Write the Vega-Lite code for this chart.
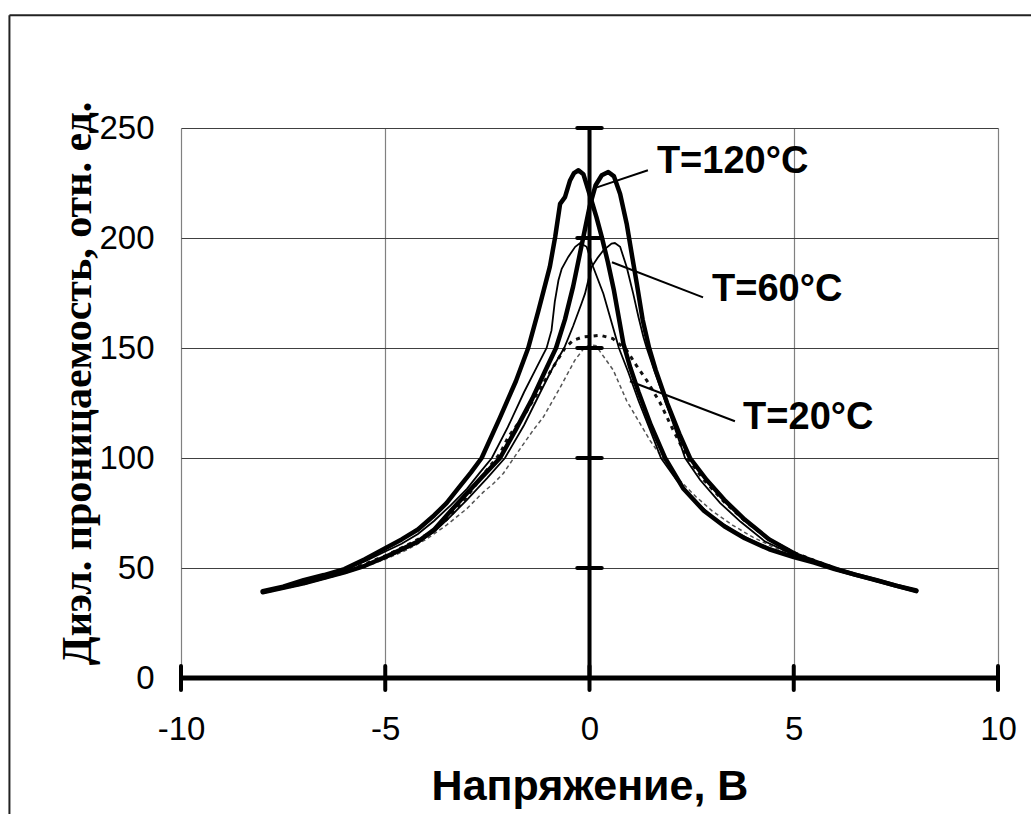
{
  "$schema": "https://vega.github.io/schema/vega-lite/v6.json",
  "width": 817,
  "height": 550,
  "autosize": {"type": "none"},
  "padding": {"left": 181, "top": 128, "right": 33, "bottom": 136},
  "background": "white",
  "config": {"view": {"stroke": null}},
  "datasets": {
    "curves": [
      {"s":"120A","x":-8,"y":39.5},{"s":"120A","x":-7.5,"y":41.5},{"s":"120A","x":-7,"y":44.5},{"s":"120A","x":-6.5,"y":46.8},{"s":"120A","x":-6,"y":49.5},{"s":"120A","x":-5.5,"y":54},{"s":"120A","x":-5,"y":59},{"s":"120A","x":-4.6,"y":63},{"s":"120A","x":-4.2,"y":67.5},{"s":"120A","x":-3.8,"y":74},{"s":"120A","x":-3.5,"y":79.5},{"s":"120A","x":-3.2,"y":86.5},{"s":"120A","x":-2.9,"y":93.5},{"s":"120A","x":-2.64,"y":100},{"s":"120A","x":-2.2,"y":118},{"s":"120A","x":-1.8,"y":135},{"s":"120A","x":-1.5,"y":150},{"s":"120A","x":-1.25,"y":167},{"s":"120A","x":-0.97,"y":187},{"s":"120A","x":-0.84,"y":200.5},{"s":"120A","x":-0.72,"y":215.5},{"s":"120A","x":-0.6,"y":218.6},{"s":"120A","x":-0.48,"y":226},{"s":"120A","x":-0.38,"y":229.5},{"s":"120A","x":-0.27,"y":230.8},{"s":"120A","x":-0.15,"y":229},{"s":"120A","x":0,"y":220},{"s":"120A","x":0.17,"y":209.5},{"s":"120A","x":0.3,"y":200.5},{"s":"120A","x":0.45,"y":189},{"s":"120A","x":0.6,"y":176},{"s":"120A","x":0.83,"y":152},{"s":"120A","x":1.0,"y":141},{"s":"120A","x":1.2,"y":130},{"s":"120A","x":1.5,"y":115},{"s":"120A","x":1.85,"y":100},{"s":"120A","x":2.3,"y":86},{"s":"120A","x":2.8,"y":76},{"s":"120A","x":3.3,"y":69},{"s":"120A","x":3.8,"y":63.5},{"s":"120A","x":4.4,"y":58.5},{"s":"120A","x":5,"y":55},{"s":"120A","x":5.5,"y":52.5},{"s":"120A","x":6,"y":49.5},{"s":"120A","x":6.5,"y":47},{"s":"120A","x":7,"y":44.5},{"s":"120A","x":7.5,"y":42},{"s":"120A","x":8,"y":39.5},

      {"s":"120B","x":-8,"y":39},{"s":"120B","x":-7.5,"y":41},{"s":"120B","x":-7,"y":43},{"s":"120B","x":-6.5,"y":45.5},{"s":"120B","x":-6,"y":48},{"s":"120B","x":-5.5,"y":51},{"s":"120B","x":-5,"y":55},{"s":"120B","x":-4.6,"y":58.5},{"s":"120B","x":-4.2,"y":62},{"s":"120B","x":-3.8,"y":67.5},{"s":"120B","x":-3.42,"y":75.5},{"s":"120B","x":-3,"y":84},{"s":"120B","x":-2.6,"y":92},{"s":"120B","x":-2.19,"y":100},{"s":"120B","x":-1.8,"y":113},{"s":"120B","x":-1.4,"y":127},{"s":"120B","x":-1.1,"y":139},{"s":"120B","x":-0.82,"y":150},{"s":"120B","x":-0.6,"y":163},{"s":"120B","x":-0.4,"y":178},{"s":"120B","x":-0.2,"y":196},{"s":"120B","x":0,"y":214},{"s":"120B","x":0.15,"y":224},{"s":"120B","x":0.3,"y":228.5},{"s":"120B","x":0.46,"y":230},{"s":"120B","x":0.6,"y":228},{"s":"120B","x":0.75,"y":220},{"s":"120B","x":0.91,"y":206.5},{"s":"120B","x":1.05,"y":191},{"s":"120B","x":1.16,"y":179},{"s":"120B","x":1.3,"y":163},{"s":"120B","x":1.46,"y":150},{"s":"120B","x":1.62,"y":140},{"s":"120B","x":1.9,"y":125},{"s":"120B","x":2.2,"y":111},{"s":"120B","x":2.46,"y":100},{"s":"120B","x":2.87,"y":90},{"s":"120B","x":3.3,"y":81},{"s":"120B","x":3.8,"y":72},{"s":"120B","x":4.4,"y":63},{"s":"120B","x":5.07,"y":56},{"s":"120B","x":5.5,"y":53},{"s":"120B","x":6.05,"y":49.5},{"s":"120B","x":6.5,"y":47},{"s":"120B","x":7.03,"y":44.5},{"s":"120B","x":7.5,"y":42},{"s":"120B","x":8,"y":39.8},

      {"s":"60C","x":-8,"y":39},{"s":"60C","x":-7.5,"y":41.2},{"s":"60C","x":-7,"y":43.8},{"s":"60C","x":-6.5,"y":46.5},{"s":"60C","x":-6,"y":49},{"s":"60C","x":-5.5,"y":53},{"s":"60C","x":-5,"y":57.5},{"s":"60C","x":-4.6,"y":61},{"s":"60C","x":-4.2,"y":65.5},{"s":"60C","x":-3.8,"y":71.5},{"s":"60C","x":-3.4,"y":78.5},{"s":"60C","x":-3,"y":86},{"s":"60C","x":-2.7,"y":93},{"s":"60C","x":-2.39,"y":100},{"s":"60C","x":-2.0,"y":114},{"s":"60C","x":-1.6,"y":130},{"s":"60C","x":-1.3,"y":141},{"s":"60C","x":-1.05,"y":150},{"s":"60C","x":-0.93,"y":158},{"s":"60C","x":-0.85,"y":171},{"s":"60C","x":-0.76,"y":180.8},{"s":"60C","x":-0.68,"y":186},{"s":"60C","x":-0.52,"y":191.4},{"s":"60C","x":-0.35,"y":196},{"s":"60C","x":-0.23,"y":197.7},{"s":"60C","x":-0.07,"y":196},{"s":"60C","x":0.09,"y":186.8},{"s":"60C","x":0.34,"y":174.7},{"s":"60C","x":0.55,"y":161},{"s":"60C","x":0.72,"y":150},{"s":"60C","x":0.95,"y":139},{"s":"60C","x":1.2,"y":126},{"s":"60C","x":1.5,"y":112},{"s":"60C","x":1.75,"y":100},{"s":"60C","x":2.13,"y":90},{"s":"60C","x":2.6,"y":80},{"s":"60C","x":3.1,"y":72},{"s":"60C","x":3.6,"y":66},{"s":"60C","x":4.2,"y":60.5},{"s":"60C","x":4.8,"y":56.5},{"s":"60C","x":5.4,"y":53},{"s":"60C","x":6,"y":49.5},{"s":"60C","x":6.5,"y":47},{"s":"60C","x":7,"y":44.3},{"s":"60C","x":7.5,"y":42},{"s":"60C","x":8,"y":39.5},

      {"s":"60D","x":-8,"y":38.7},{"s":"60D","x":-7.5,"y":40.8},{"s":"60D","x":-7,"y":42.8},{"s":"60D","x":-6.5,"y":45.2},{"s":"60D","x":-6,"y":47.8},{"s":"60D","x":-5.5,"y":50.8},{"s":"60D","x":-5,"y":54.5},{"s":"60D","x":-4.6,"y":57.8},{"s":"60D","x":-4.2,"y":61.5},{"s":"60D","x":-3.8,"y":66.5},{"s":"60D","x":-3.4,"y":73.5},{"s":"60D","x":-3,"y":81},{"s":"60D","x":-2.5,"y":91},{"s":"60D","x":-2.07,"y":100},{"s":"60D","x":-1.6,"y":115},{"s":"60D","x":-1.2,"y":130},{"s":"60D","x":-0.9,"y":141},{"s":"60D","x":-0.62,"y":150},{"s":"60D","x":-0.4,"y":160},{"s":"60D","x":-0.2,"y":170},{"s":"60D","x":-0.11,"y":174.7},{"s":"60D","x":0.05,"y":186.8},{"s":"60D","x":0.2,"y":191},{"s":"60D","x":0.34,"y":194.4},{"s":"60D","x":0.54,"y":197.5},{"s":"60D","x":0.62,"y":197.7},{"s":"60D","x":0.75,"y":196},{"s":"60D","x":0.91,"y":186.8},{"s":"60D","x":1.07,"y":174.7},{"s":"60D","x":1.2,"y":164},{"s":"60D","x":1.32,"y":155},{"s":"60D","x":1.4,"y":150},{"s":"60D","x":1.6,"y":139},{"s":"60D","x":1.85,"y":126},{"s":"60D","x":2.1,"y":113},{"s":"60D","x":2.34,"y":100},{"s":"60D","x":2.71,"y":90},{"s":"60D","x":3.2,"y":79.5},{"s":"60D","x":3.7,"y":71},{"s":"60D","x":4.3,"y":62},{"s":"60D","x":5,"y":56},{"s":"60D","x":5.5,"y":52.8},{"s":"60D","x":6,"y":49.5},{"s":"60D","x":6.5,"y":46.8},{"s":"60D","x":7,"y":44.3},{"s":"60D","x":7.5,"y":42},{"s":"60D","x":8,"y":39.8},

      {"s":"20E","x":-8,"y":39},{"s":"20E","x":-7.5,"y":41},{"s":"20E","x":-7,"y":43.2},{"s":"20E","x":-6.5,"y":45.8},{"s":"20E","x":-6,"y":48.5},{"s":"20E","x":-5.5,"y":51.8},{"s":"20E","x":-5,"y":55.5},{"s":"20E","x":-4.5,"y":60},{"s":"20E","x":-4,"y":65},{"s":"20E","x":-3.5,"y":72},{"s":"20E","x":-3.1,"y":80},{"s":"20E","x":-2.76,"y":88.4},{"s":"20E","x":-2.52,"y":94.4},{"s":"20E","x":-2.19,"y":102},{"s":"20E","x":-1.99,"y":109.5},{"s":"20E","x":-1.58,"y":120},{"s":"20E","x":-1.13,"y":134},{"s":"20E","x":-0.8,"y":144},{"s":"20E","x":-0.6,"y":150},{"s":"20E","x":-0.4,"y":153.5},{"s":"20E","x":-0.16,"y":155},{"s":"20E","x":0.26,"y":155.8},{"s":"20E","x":0.57,"y":154.3},{"s":"20E","x":0.91,"y":149},{"s":"20E","x":1.15,"y":142},{"s":"20E","x":1.4,"y":135.3},{"s":"20E","x":1.73,"y":125},{"s":"20E","x":2.04,"y":113},{"s":"20E","x":2.4,"y":100},{"s":"20E","x":2.8,"y":90},{"s":"20E","x":3.3,"y":80},{"s":"20E","x":3.8,"y":71.5},{"s":"20E","x":4.4,"y":63},{"s":"20E","x":5,"y":57},{"s":"20E","x":5.5,"y":53.5},{"s":"20E","x":6,"y":50},{"s":"20E","x":6.5,"y":47},{"s":"20E","x":7,"y":44.5},{"s":"20E","x":7.5,"y":42},{"s":"20E","x":8,"y":39.5},

      {"s":"20F","x":-8,"y":38.5},{"s":"20F","x":-7.5,"y":40.5},{"s":"20F","x":-7,"y":42.5},{"s":"20F","x":-6.5,"y":45},{"s":"20F","x":-6,"y":47.5},{"s":"20F","x":-5.5,"y":50.5},{"s":"20F","x":-5,"y":54},{"s":"20F","x":-4.5,"y":58},{"s":"20F","x":-4,"y":63},{"s":"20F","x":-3.5,"y":69.5},{"s":"20F","x":-3,"y":77},{"s":"20F","x":-2.6,"y":84.5},{"s":"20F","x":-2.35,"y":88.4},{"s":"20F","x":-2.11,"y":93},{"s":"20F","x":-1.78,"y":102},{"s":"20F","x":-1.38,"y":112.6},{"s":"20F","x":-1.13,"y":118.6},{"s":"20F","x":-0.72,"y":132},{"s":"20F","x":-0.36,"y":144.4},{"s":"20F","x":-0.15,"y":149.5},{"s":"20F","x":0,"y":151.5},{"s":"20F","x":0.16,"y":151},{"s":"20F","x":0.35,"y":146},{"s":"20F","x":0.58,"y":140},{"s":"20F","x":0.91,"y":126},{"s":"20F","x":1.24,"y":115.6},{"s":"20F","x":1.48,"y":108},{"s":"20F","x":1.65,"y":103.5},{"s":"20F","x":1.8,"y":100},{"s":"20F","x":2.2,"y":90},{"s":"20F","x":2.6,"y":82.5},{"s":"20F","x":3,"y":76},{"s":"20F","x":3.5,"y":69.5},{"s":"20F","x":4,"y":64},{"s":"20F","x":4.5,"y":59.5},{"s":"20F","x":5,"y":56},{"s":"20F","x":5.5,"y":52.5},{"s":"20F","x":6,"y":49.5},{"s":"20F","x":6.5,"y":46.8},{"s":"20F","x":7,"y":44},{"s":"20F","x":7.5,"y":41.8},{"s":"20F","x":8,"y":39.3}
    ],
    "labels": [
      {"text":"T=120°C","x":1.65,"y":234.4},
      {"text":"T=60°C","x":3.0,"y":176.2},
      {"text":"T=20°C","x":3.76,"y":118}
    ],
    "leaders": [
      {"x":1.43,"y":230.8,"x2":0.18,"y2":223},
      {"x":2.78,"y":173,"x2":0.55,"y2":189},
      {"x":3.56,"y":116.7,"x2":0.99,"y2":134.9}
    ],
    "xticks": [{"v":-10},{"v":-5},{"v":0},{"v":5},{"v":10}],
    "yticks": [{"v":50},{"v":100},{"v":150},{"v":200},{"v":250}],
    "frame": [
      {"x":-14.2,"y":301.2,"x2":10.9,"y2":301.2},
      {"x":-14.2,"y":301.2,"x2":-14.2,"y2":-62}
    ]
  },
  "layer": [
    {
      "data": {"name": "xticks"},
      "mark": {"type": "rule", "opacity": 0},
      "encoding": {
        "x": {"field": "v", "type": "quantitative", "scale": {"domain": [-10, 10], "nice": false, "zero": false},
          "axis": {"values": [-10, -5, 0, 5, 10], "grid": true, "gridColor": "#808080", "gridWidth": 1.2, "domain": false, "ticks": false, "tickSize": 0,
            "labelExpr": "toString(datum.value)",
            "labelFont": "Liberation Sans", "labelFontSize": 33, "labelColor": "black", "labelPadding": 35, "labelFlush": false,
            "title": "Напряжение, В", "titleFont": "Liberation Sans", "titleFontSize": 43, "titleFontWeight": "bold", "titleColor": "black", "titlePadding": 19}},
        "y": {"datum": 0, "type": "quantitative", "scale": {"domain": [0, 250], "nice": false},
          "axis": {"values": [0, 50, 100, 150, 200, 250], "grid": true, "gridColor": "#404040", "gridWidth": 1.2, "domain": false, "ticks": false, "tickSize": 0,
            "labelFont": "Liberation Sans", "labelFontSize": 33, "labelColor": "black", "labelPadding": 27,
            "title": "Диэл. проницаемость, отн. ед.", "titleFont": "Liberation Serif", "titleFontSize": 42, "titleFontWeight": "bold", "titleColor": "black",
            "titleX": -91, "titleY": 255, "titleAngle": 270, "titleBaseline": "alphabetic", "titleAlign": "center"}}
      }
    },
    {
      "data": {"name": "frame"},
      "mark": {"type": "rule", "color": "#222", "strokeWidth": 2},
      "encoding": {
        "x": {"field": "x", "type": "quantitative", "scale": {"domain": [-10, 10]}},
        "y": {"field": "y", "type": "quantitative", "scale": {"domain": [0, 250]}},
        "x2": {"field": "x2"},
        "y2": {"field": "y2"}
      }
    },
    {
      "data": {"name": "curves"},
      "transform": [{"filter": "datum.s === '20F'"}],
      "mark": {"type": "line", "color": "#555", "strokeWidth": 1.5, "strokeDash": [4, 3]},
      "encoding": {
        "x": {"field": "x", "type": "quantitative", "scale": {"domain": [-10, 10]}},
        "y": {"field": "y", "type": "quantitative", "scale": {"domain": [0, 250]}},
        "detail": {"field": "s"}
      }
    },
    {
      "data": {"name": "curves"},
      "transform": [{"filter": "datum.s === '20E'"}],
      "mark": {"type": "line", "color": "#111", "strokeWidth": 3, "strokeDash": [4, 5]},
      "encoding": {
        "x": {"field": "x", "type": "quantitative", "scale": {"domain": [-10, 10]}},
        "y": {"field": "y", "type": "quantitative", "scale": {"domain": [0, 250]}},
        "detail": {"field": "s"}
      }
    },
    {
      "data": {"name": "curves"},
      "transform": [{"filter": "datum.s === '60C' || datum.s === '60D'"}],
      "mark": {"type": "line", "color": "black", "strokeWidth": 1.8},
      "encoding": {
        "x": {"field": "x", "type": "quantitative", "scale": {"domain": [-10, 10]}},
        "y": {"field": "y", "type": "quantitative", "scale": {"domain": [0, 250]}},
        "detail": {"field": "s"}
      }
    },
    {
      "data": {"name": "curves"},
      "transform": [{"filter": "datum.s === '120A' || datum.s === '120B'"}],
      "mark": {"type": "line", "color": "black", "strokeWidth": 4.5, "strokeJoin": "round", "strokeCap": "round"},
      "encoding": {
        "x": {"field": "x", "type": "quantitative", "scale": {"domain": [-10, 10]}},
        "y": {"field": "y", "type": "quantitative", "scale": {"domain": [0, 250]}},
        "detail": {"field": "s"}
      }
    },
    {
      "data": {"values": [{"x": -10, "x2": 10, "y": 0}]},
      "mark": {"type": "rule", "color": "black", "strokeWidth": 5},
      "encoding": {
        "x": {"field": "x", "type": "quantitative", "scale": {"domain": [-10, 10]}},
        "x2": {"field": "x2"},
        "y": {"field": "y", "type": "quantitative", "scale": {"domain": [0, 250]}}
      }
    },
    {
      "data": {"values": [{"x": 0, "y": 0, "y2": 250}]},
      "mark": {"type": "rule", "color": "black", "strokeWidth": 4},
      "encoding": {
        "x": {"field": "x", "type": "quantitative", "scale": {"domain": [-10, 10]}},
        "y": {"field": "y", "type": "quantitative", "scale": {"domain": [0, 250]}},
        "y2": {"field": "y2"}
      }
    },
    {
      "data": {"name": "xticks"},
      "mark": {"type": "rule", "color": "black", "strokeWidth": 4, "strokeCap": "round"},
      "encoding": {
        "x": {"field": "v", "type": "quantitative", "scale": {"domain": [-10, 10]}},
        "y": {"datum": -5.5, "type": "quantitative", "scale": {"domain": [0, 250]}},
        "y2": {"datum": 5.5}
      }
    },
    {
      "data": {"name": "yticks"},
      "mark": {"type": "rule", "color": "black", "strokeWidth": 4, "strokeCap": "round"},
      "encoding": {
        "y": {"field": "v", "type": "quantitative", "scale": {"domain": [0, 250]}},
        "x": {"datum": -0.3, "type": "quantitative", "scale": {"domain": [-10, 10]}},
        "x2": {"datum": 0.3}
      }
    },
    {
      "data": {"name": "leaders"},
      "mark": {"type": "rule", "color": "black", "strokeWidth": 2},
      "encoding": {
        "x": {"field": "x", "type": "quantitative", "scale": {"domain": [-10, 10]}},
        "y": {"field": "y", "type": "quantitative", "scale": {"domain": [0, 250]}},
        "x2": {"field": "x2"},
        "y2": {"field": "y2"}
      }
    },
    {
      "data": {"name": "labels"},
      "mark": {"type": "text", "align": "left", "baseline": "middle", "font": "Liberation Sans", "fontWeight": "bold", "fontSize": 38, "color": "black"},
      "encoding": {
        "x": {"field": "x", "type": "quantitative", "scale": {"domain": [-10, 10]}},
        "y": {"field": "y", "type": "quantitative", "scale": {"domain": [0, 250]}},
        "text": {"field": "text"}
      }
    }
  ]
}
